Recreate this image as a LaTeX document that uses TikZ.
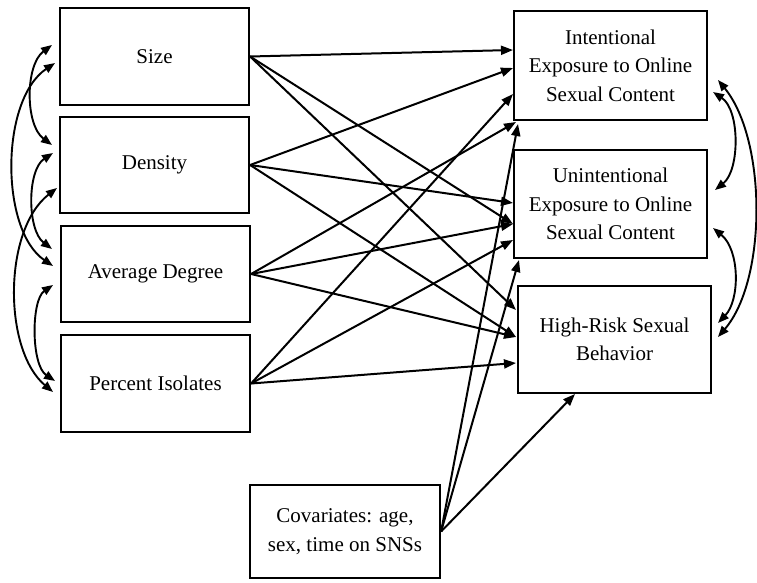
\documentclass[tikz,border=0pt]{standalone}
\usepackage{fontspec}
\setmainfont{Liberation Serif}
\usetikzlibrary{arrows.meta}
\begin{document}
\begin{tikzpicture}[x=1pt,y=-1pt,
  box/.style={draw, line width=2.2pt, align=center, inner sep=0pt,
    font=\fontsize{21}{28.5}\selectfont},
  conn/.style={line width=2pt, -{Triangle[length=12pt,width=9pt]}},
  corr/.style={line width=1.9pt,
    {Triangle[length=11pt,width=8.5pt]}-{Triangle[length=11pt,width=8.5pt]}}]
\useasboundingbox[fill=white] (0,0) rectangle (757,583);
% left boxes
\node[box, minimum width=189pt, minimum height=97pt] (size) at (154.5,56.5) {Size};
\node[box, minimum width=189pt, minimum height=96pt] (dens) at (154.5,165) {Density};
\node[box, minimum width=189pt, minimum height=96pt] (avg) at (155.5,274) {Average Degree};
\node[box, minimum width=189pt, minimum height=97pt] (pct) at (155.5,383.5) {Percent Isolates};
% right boxes
\node[box, minimum width=193pt, minimum height=109pt] (int) at (610.5,65.5)
  {Intentional\\Exposure to Online\\Sexual Content};
\node[box, minimum width=193pt, minimum height=108pt] (unint) at (610.5,204)
  {Unintentional\\Exposure to Online\\Sexual Content};
\node[box, minimum width=193pt, minimum height=107pt] (hr) at (614.5,339.5)
  {High-Risk Sexual\\Behavior};
\node[box, minimum width=190pt, minimum height=93pt] (cov) at (345,531.5)
  {Covariates: age,\\sex, time on SNSs};
% target points
\coordinate (i1) at (513,50);
\coordinate (i2) at (513,68);
\coordinate (i3) at (513,94);
\coordinate (i4) at (516,122);
\coordinate (i5) at (518,124);
\coordinate (u1) at (513,203);
\coordinate (u2) at (513,224);
\coordinate (u3) at (513,240);
\coordinate (u4) at (519,260);
\coordinate (h1) at (516,310);
\coordinate (h2) at (516,337);
\coordinate (h3) at (516,363);
\coordinate (h4) at (575,394);
% paths
\draw[conn] (size.east) -- (i1);
\draw[conn] (size.east) -- (u2);
\draw[conn] (size.east) -- (h1);
\draw[conn] (dens.east) -- (i2);
\draw[conn] (dens.east) -- (u1);
\draw[conn] (dens.east) -- (h2);
\draw[conn] (avg.east) -- (i4);
\draw[conn] (avg.east) -- (u2);
\draw[conn] (avg.east) -- (h2);
\draw[conn] (pct.east) -- (i3);
\draw[conn] (pct.east) -- (u3);
\draw[conn] (pct.east) -- (h3);
\draw[conn] (cov.east) -- (i5);
\draw[conn] (cov.east) -- (u4);
\draw[conn] (cov.east) -- (h4);
% left correlations
\coordinate (sa) at (52,45);
\coordinate (sb) at (55,63);
\coordinate (da) at (52,145);
\coordinate (db) at (53,153);
\coordinate (dc) at (57,188);
\coordinate (aa) at (52,249);
\coordinate (ab) at (53,266);
\coordinate (ac) at (53,285);
\coordinate (pa) at (55,381);
\coordinate (pb) at (53,392);
\draw[corr] (sa) .. controls (25,65) and (25,125) .. (da);
\draw[corr] (sb) .. controls (0,100) and (0,230) .. (ab);
\draw[corr] (db) .. controls (27,170) and (27,230) .. (aa);
\draw[corr] (dc) .. controls (3,230) and (3,350) .. (pb);
\draw[corr] (ac) .. controls (31,300) and (31,365) .. (pa);
% right correlations
\coordinate (ra) at (718,80);
\coordinate (rb) at (713,92);
\coordinate (rc) at (715,190);
\coordinate (rd) at (713,228);
\coordinate (re) at (718,323);
\coordinate (rf) at (718,337);
\draw[corr] (ra) .. controls (767,140) and (767,280) .. (rf);
\draw[corr] (rb) .. controls (740,110) and (740,170) .. (rc);
\draw[corr] (rd) .. controls (740,250) and (740,300) .. (re);
\end{tikzpicture}
\end{document}
